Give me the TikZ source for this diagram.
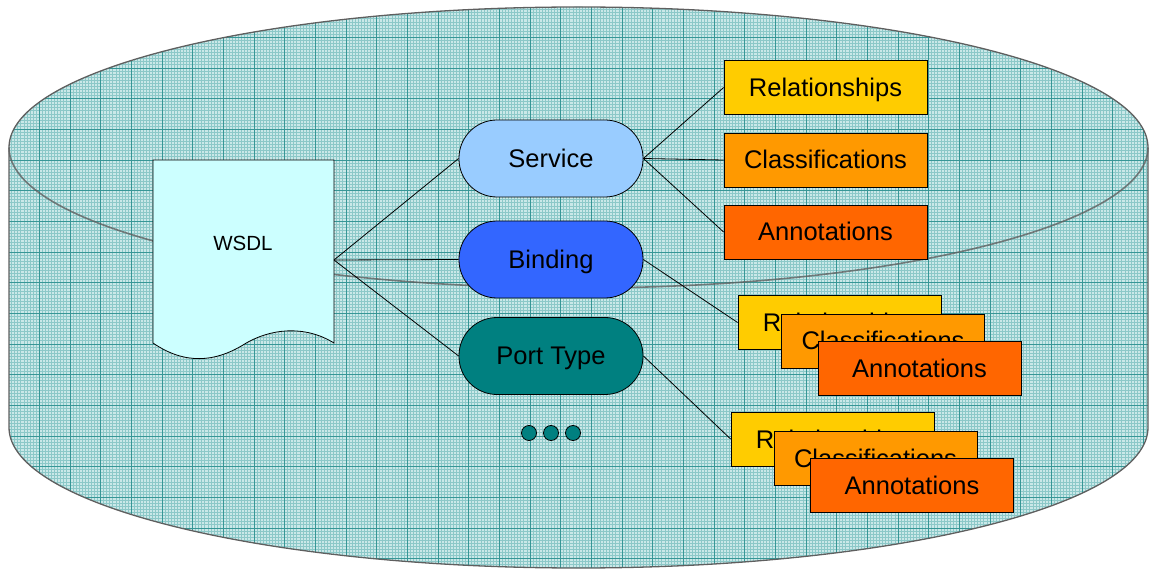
\documentclass[tikz,border=0pt]{standalone}
\usepackage{fontspec}
\setmainfont{Liberation Sans}
\definecolor{cylfill}{RGB}{202,232,232}
\definecolor{finegrid}{RGB}{140,200,200}
\definecolor{majorgrid}{RGB}{55,150,150}
\definecolor{cyledge}{RGB}{95,95,95}
\definecolor{docfill}{RGB}{204,255,255}
\definecolor{svcfill}{RGB}{153,204,255}
\definecolor{bindfill}{RGB}{51,102,255}
\definecolor{ptfill}{RGB}{0,128,128}
\definecolor{relfill}{RGB}{255,204,0}
\definecolor{clsfill}{RGB}{255,153,0}
\definecolor{annfill}{RGB}{255,102,0}
\begin{document}
\begin{tikzpicture}[x=1pt, y=-1pt,
  pill/.style={rectangle, rounded corners=38pt, minimum width=184pt,
    minimum height=77pt, draw=black, line width=0.8pt, inner sep=0pt,
    text height=18pt, text depth=0pt, font=\fontsize{25.5}{30}\selectfont},
  tag/.style={rectangle, minimum width=203pt, minimum height=54pt,
    draw=black, line width=0.8pt, inner sep=0pt,
    text height=18pt, text depth=0pt, font=\fontsize{25.5}{30}\selectfont},
  link/.style={draw=black, line width=0.8pt},
  dot/.style={circle, minimum size=15pt, inner sep=0pt, fill=ptfill,
    draw=black, line width=0.8pt}]
\useasboundingbox (0,0) rectangle (1149,569);

% cylinder outline: side walls, bottom front arc, top back arc
\def\cylpath{(9,147.5) -- (9,427.5)
  arc[start angle=180, end angle=360, x radius=569.5pt, y radius=140.5pt]
  -- (1148,147.5)
  arc[start angle=0, end angle=180, x radius=569.5pt, y radius=140.5pt]
  -- cycle}

\fill[cylfill] \cylpath;
\begin{scope}
  \clip \cylpath;
  \draw[finegrid, line width=0.55pt]
    \foreach \i in {0,...,371} {({8.5+\i*3.0667},0) -- ++(0,569)}
    \foreach \j in {0,...,183} {(0,{6.5+\j*3.0667}) -- ++(1149,0)};
  \draw[majorgrid, line width=0.65pt]
    \foreach \i in {0,...,37} {({8.5+\i*30.667},0) -- ++(0,569)}
    \foreach \j in {0,...,18} {(0,{6.5+\j*30.667}) -- ++(1149,0)};
\end{scope}
\draw[cyledge, line width=1.3pt] \cylpath;
% front rim of the top face
\draw[cyledge, line width=1.6pt, opacity=0.8] (9,147.5)
  arc[start angle=180, end angle=360, x radius=569.5pt, y radius=140.5pt];

% WSDL document
\draw[fill=docfill, draw=black, line width=0.8pt]
  (153,160) -- (334,160) -- (334,343)
  .. controls (305,325) and (270,328) .. (243,345)
  .. controls (215,362) and (185,365) .. (153,343) -- cycle;
\node[font=\fontsize{20.5}{24}\selectfont] (wsdl) at (243,243) {WSDL};
\coordinate (hub) at (334,260);

% WSDL parts
\node[pill, fill=svcfill] (service) at (551,158.5) {Service};
\node[pill, fill=bindfill] (binding) at (551,259.5) {Binding};
\node[pill, fill=ptfill] (porttype) at (551,356) {Port Type};

\draw[link] (hub) -- (service.west);
\draw[link] (hub) -- (binding.west);
\draw[link] (hub) -- (porttype.west);

\node[dot] (d1) at (529,433) {};
\node[dot] (d2) at (551,433) {};
\node[dot] (d3) at (573,433) {};

% metadata for the service
\node[tag, fill=relfill] (rel1) at (825.5,87.5) {Relationships};
\node[tag, fill=clsfill] (cls1) at (825.5,160) {Classifications};
\node[tag, fill=annfill] (ann1) at (825.5,232) {Annotations};
\draw[link] (service.east) -- (rel1.west);
\draw[link] (service.east) -- (cls1.west);
\draw[link] (service.east) -- (ann1.west);

% metadata for the binding
\node[tag, fill=relfill] (rel2) at (839.5,322.5) {Relationships};
\node[tag, fill=clsfill] (cls2) at (883,341) {Classifications};
\node[tag, fill=annfill] (ann2) at (919.5,368.5) {Annotations};
\draw[link] (binding.east) -- (rel2.west);

% metadata for the port type
\node[tag, fill=relfill] (rel3) at (832.5,439) {Relationships};
\node[tag, fill=clsfill] (cls3) at (875.5,458) {Classifications};
\node[tag, fill=annfill] (ann3) at (912,485) {Annotations};
\draw[link] (porttype.east) -- (rel3.west);
\end{tikzpicture}
\end{document}
